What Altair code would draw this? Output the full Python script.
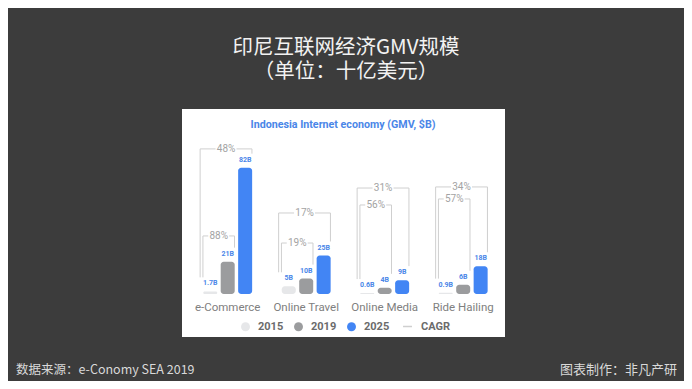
import altair as alt
import pandas as pd

# ---------------- data ----------------
categories = ["e-Commerce", "Online Travel", "Online Media", "Ride Hailing"]
years = ["2015", "2019", "2025"]
values_2015 = [1.7, 5, 0.6, 0.9]
values_2019 = [21, 10, 4, 6]
values_2025 = [82, 25, 9, 18]
cagr_2015_2019 = ["88%", "19%", "56%", "57%"]
cagr_2015_2025 = ["48%", "17%", "31%", "34%"]
# height (in $B units) at which each CAGR bracket is drawn
bracket_level_2019 = [37.7, 33.1, 57.8, 61.7]
bracket_level_2025 = [94.2, 52.6, 68.8, 69.5]
year_colors = ["#e6e7e9", "#9b9c9e", "#4285f4"]

slide_title = "印尼互联网经济GMV规模"
slide_subtitle = "（单位：十亿美元）"
panel_title = "Indonesia Internet economy (GMV, $B)"
source_text = "数据来源：e-Conomy SEA 2019"
credit_text = "图表制作：非凡产研"

# ---------------- tables ----------------
GROUP_STEP = 4.5
series = [values_2015, values_2019, values_2025]


def pos(g, b):
    return g * GROUP_STEP + b


bars = []
for g, cat in enumerate(categories):
    for b, yr in enumerate(years):
        v = series[b][g]
        bars.append({"category": cat, "year": yr, "value": v,
                     "pos": pos(g, b), "label": f"{v:g}B"})
bars_df = pd.DataFrame(bars)

HALF_BAR = 0.39
LABEL_LIFT = 9.1
GAP = 0.6
segs, btxt = [], []
for g, cat in enumerate(categories):
    for end_b, level, txt, loff in [(1, bracket_level_2019[g], cagr_2015_2019[g], 0.42),
                                    (2, bracket_level_2025[g], cagr_2015_2025[g], 0.58)]:
        L = pos(g, 0) - loff
        R = pos(g, end_b) + HALF_BAR
        mid = (L + R) / 2
        yl = series[0][g] + LABEL_LIFT
        yr_ = series[end_b][g] + LABEL_LIFT
        segs += [
            {"x": L, "x2": L, "y": yl, "y2": level},
            {"x": L, "x2": mid - GAP, "y": level, "y2": level},
            {"x": mid + GAP, "x2": R, "y": level, "y2": level},
            {"x": R, "x2": R, "y": level, "y2": yr_},
        ]
        btxt.append({"x": mid, "y": level, "text": txt})
segs_df = pd.DataFrame(segs)
segs_df["kind"] = "CAGR"
btxt_df = pd.DataFrame(btxt)

cat_df = pd.DataFrame({"category": categories,
                       "pos": [pos(g, 1) for g in range(len(categories))]})

W, H = 323, 228
xs = alt.Scale(domain=[-1.333, 16.61], nice=False, zero=False)
ys = alt.Scale(domain=[-27.9, 120.1], nice=False, zero=False)
FONT = "Roboto"

bar_layer = alt.Chart(bars_df).mark_bar(size=14, cornerRadius=3).encode(
    x=alt.X("pos:Q", scale=xs, axis=None),
    y=alt.Y("value:Q", scale=ys, axis=None),
    y2=alt.datum(0),
    color=alt.Color("year:N", scale=alt.Scale(domain=years, range=year_colors),
                    legend=alt.Legend(title=None, orient="none", direction="horizontal",
                                      legendX=58, legendY=212, symbolType="circle",
                                      symbolSize=80, labelFontSize=11, labelFont=FONT,
                                      labelFontWeight="bold", labelColor="#6b6b6b",
                                      columnPadding=9, labelOffset=7, padding=0,
                                      symbolStrokeWidth=0)),
)

value_text = alt.Chart(bars_df).mark_text(
    fontSize=7, fontWeight="bold", color="#4a86e8", font=FONT, dy=-8, baseline="middle"
).encode(x=alt.X("pos:Q", scale=xs), y=alt.Y("value:Q", scale=ys), text="label:N")

rules = alt.Chart(segs_df).mark_rule(strokeWidth=1).encode(
    x=alt.X("x:Q", scale=xs), x2="x2:Q",
    y=alt.Y("y:Q", scale=ys), y2="y2:Q",
    stroke=alt.Stroke("kind:N", scale=alt.Scale(domain=["CAGR"], range=["#cfcfcf"]),
                      legend=alt.Legend(title=None, orient="none", legendX=220, legendY=212,
                                        symbolType="stroke", symbolSize=80,
                                        symbolStrokeWidth=1.5,
                                        labelFontSize=11, labelFont=FONT,
                                        labelFontWeight="bold", labelColor="#6b6b6b",
                                        labelOffset=8, padding=0)),
)

bracket_text = alt.Chart(btxt_df).mark_text(
    fontSize=10, color="#a3a3a3", font=FONT, baseline="middle"
).encode(x=alt.X("x:Q", scale=xs), y=alt.Y("y:Q", scale=ys), text="text:N")

cat_text = alt.Chart(cat_df).mark_text(
    fontSize=11.5, color="#808080", font=FONT, baseline="middle"
).encode(x=alt.X("pos:Q", scale=xs), y=alt.value(199), text="category:N")


def label(txt, x, y, size, color, align="center", weight="normal", font=FONT):
    return alt.Chart(pd.DataFrame({"t": [txt]})).mark_text(
        fontSize=size, color=color, align=align, baseline="middle",
        fontWeight=weight, font=font
    ).encode(x=alt.value(x), y=alt.value(y), text="t:N")


CJK = "Noto Sans CJK SC"
texts = [
    label(panel_title, 161, 16, 10.7, "#4a86e8", weight="bold"),
    label(slide_title, 164, -61.5, 20.5, "#f2f2f2", font=CJK),
    label(slide_subtitle, 164, -37.5, 20.5, "#f2f2f2", font=CJK),
    label(source_text, -166, 261, 12.5, "#d9d9d9", align="left", font=CJK),
    label(credit_text, 495, 261, 13, "#d9d9d9", align="right", font=CJK),
]

chart = alt.layer(bar_layer, rules, value_text, bracket_text, cat_text, *texts).properties(
    width=W, height=H,
    autosize=alt.AutoSizeParams(type="none"),
    padding={"left": 174, "top": 101, "right": 179, "bottom": 44},
    background="#3c3c3c",
).configure_view(fill="white", stroke=None)

chart.save("out.html", embed_options={"renderer": "svg", "actions": False})
